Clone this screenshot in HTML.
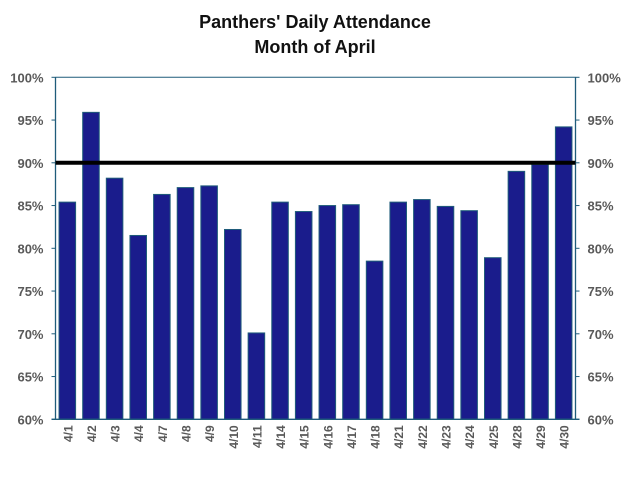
<!DOCTYPE html>
<html><head><meta charset="utf-8"><style>
body{margin:0;background:#fff;font-family:"Liberation Sans",sans-serif}
svg text{font-family:"Liberation Sans",sans-serif}
</style></head><body>
<svg id="chart" width="630" height="479">
<text x="315" y="28" text-anchor="middle" font-size="18" font-weight="bold" fill="#111">Panthers' Daily Attendance</text>
<text x="315" y="53" text-anchor="middle" font-size="18" font-weight="bold" fill="#111">Month of April</text>
<g id="plot"></g>
</svg>
<script>
const categories=["4/1","4/2","4/3","4/4","4/7","4/8","4/9","4/10","4/11","4/14","4/15","4/16","4/17","4/18","4/21","4/22","4/23","4/24","4/25","4/28","4/29","4/30"];
const values=[85.4,95.9,88.2,81.5,86.3,87.1,87.3,82.2,70.1,85.4,84.3,85.0,85.1,78.5,85.4,85.7,84.9,84.4,78.9,89.0,89.8,94.2];
const yTicks=[60,65,70,75,80,85,90,95,100];
const target=[90];
const NS="http://www.w3.org/2000/svg";
const L=55.5,R=575.5,T=77.3,B=419.3,yMin=60,yMax=100;
const y=v=>B-(v-yMin)/(yMax-yMin)*(B-T);
const slot=(R-L)/categories.length;
const x=i=>L+slot*i;
const g=document.getElementById('plot');
function mk(t,a){const e=document.createElementNS(NS,t);for(const k in a)e.setAttribute(k,a[k]);g.appendChild(e);return e;}
const ax="#1f5c7a";
values.forEach((v,i)=>{
  const bw=slot*0.7;
  const r=mk('rect',{x:x(i)+(slot-bw)/2,y:y(v),width:bw,height:B-y(v),fill:"#1a1c8c",stroke:"#1f5c7a","stroke-width":1});
  
  
  const t=mk('text',{transform:`translate(${x(i)+slot/2+5},${B+6}) rotate(-90)`,"text-anchor":"end","font-size":12,"font-weight":"bold",fill:"#595959"});
  t.textContent=categories[i];
  
  
});
const la=mk('line',{x1:L,y1:T,x2:L,y2:B,stroke:ax,"stroke-width":1.3});


const ra=mk('line',{x1:R,y1:T,x2:R,y2:B,stroke:ax,"stroke-width":1.3});


const ta=mk('line',{x1:L,y1:T,x2:R,y2:T,stroke:ax,"stroke-width":1});


const ba=mk('line',{x1:L-4,y1:B,x2:R+4,y2:B,stroke:ax,"stroke-width":1.3});


yTicks.forEach(v=>{
  mk('line',{x1:L-4,y1:y(v),x2:L,y2:y(v),stroke:ax});
  mk('line',{x1:R,y1:y(v),x2:R+4,y2:y(v),stroke:ax});
  const a=mk('text',{x:L-12,y:y(v)+5,"text-anchor":"end","font-size":13,"font-weight":"bold",fill:"#595959"});
  a.textContent=v+'%';
  
  
  const b=mk('text',{x:R+12,y:y(v)+5,"text-anchor":"start","font-size":13,"font-weight":"bold",fill:"#595959"});
  b.textContent=v+'%';
  
  
});
target.forEach(v=>{
  const l=mk('line',{x1:L,y1:y(v),x2:R,y2:y(v),stroke:"#000","stroke-width":4});
  
  
});
</script>
</body></html>
